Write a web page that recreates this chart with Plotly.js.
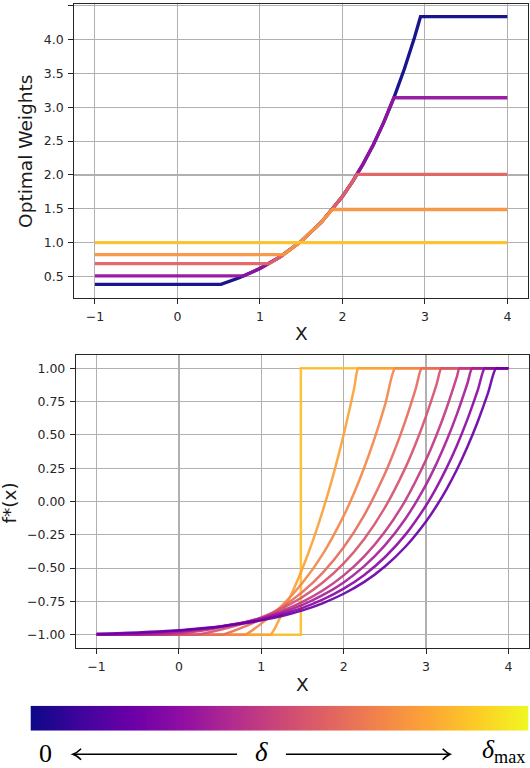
<!DOCTYPE html>
<html><head><meta charset="utf-8">
<script src="https://cdn.plot.ly/plotly-3.0.1.min.js"></script>
<style>html,body{margin:0;padding:0;background:#fff}#chart{width:530px;height:768px}</style>
</head><body><div id="chart"></div>
<script>
// ---------- Top panel: optimal weights vs X ----------
const wNavyX   = [-1, 0.528, 0.75, 1, 1.25, 1.5, 1.75, 2, 2.125, 2.25, 2.375, 2.5, 2.625, 2.75, 2.875, 2.947, 4];
const wNavyY   = [0.386, 0.386, 0.482, 0.619, 0.795, 1.020, 1.310, 1.682, 1.906, 2.160, 2.447, 2.773, 3.142, 3.561, 4.035, 4.337, 4.337];
const wPurpleX = [-1, 0.805, 1, 1.25, 1.5, 1.75, 2, 2.125, 2.25, 2.375, 2.5, 2.624, 4];
const wPurpleY = [0.509, 0.509, 0.619, 0.795, 1.020, 1.310, 1.682, 1.906, 2.160, 2.447, 2.773, 3.14, 3.14];
const wRedX    = [-1, 1.112, 1.25, 1.5, 1.75, 2, 2.125, 2.178, 4];
const wRedY    = [0.692, 0.692, 0.795, 1.020, 1.310, 1.682, 1.906, 2.01, 2.01];
const wOrangeX = [-1, 1.288, 1.5, 1.75, 1.879, 4];
const wOrangeY = [0.825, 0.825, 1.020, 1.310, 1.49, 1.49];
const wYellowX = [-1, 4];
const wYellowY = [1, 1];
const topColors = ['#0d0887', '#9613a1', '#e16462', '#f8953f', '#fdc12b'];

// ---------- Bottom panel: f*(x) vs X ----------
const f1X = [-1, 1.48, 1.48, 4];
const f1Y = [-1, -1, 1, 1];
const f2X = [-1, 1.08, 1.112, 1.25, 1.375, 1.5, 1.625, 1.75, 1.875, 2, 2.125, 2.178, 2.21, 4];
const f2Y = [-1, -1, -1, -0.844, -0.684, -0.502, -0.296, -0.062, 0.202, 0.502, 0.842, 1, 1, 1];
const f3X = [-1, 0.775, 0.805, 1, 1.25, 1.5, 1.75, 2, 2.125, 2.25, 2.375, 2.5, 2.624, 2.655, 4];
const f3Y = [-1, -1, -1, -0.917, -0.783, -0.611, -0.391, -0.108, 0.062, 0.255, 0.473, 0.721, 1, 1, 1];
const f4X = [-1, 0.498, 0.528, 0.75, 1, 1.25, 1.5, 1.75, 2, 2.25, 2.5, 2.625, 2.75, 2.875, 2.947, 2.977, 4];
const f4Y = [-1, -1, -1, -0.951, -0.882, -0.793, -0.679, -0.532, -0.344, -0.102, 0.208, 0.395, 0.607, 0.847, 1, 1, 1];
const f5X = [-1, 0.177, 0.207, 0.5, 0.75, 1, 1.25, 1.5, 1.75, 2, 2.25, 2.5, 2.75, 2.875, 3, 3.125, 3.187, 3.217, 4];
const f5Y = [-1, -1, -1, -0.964, -0.923, -0.870, -0.803, -0.717, -0.606, -0.464, -0.281, -0.047, 0.254, 0.435, 0.641, 0.873, 1, 1, 1];
const f6X = [-1, -0.159, -0.129, 0, 0.25, 0.5, 0.75, 1, 1.25, 1.5, 1.75, 2, 2.25, 2.5, 2.75, 3, 3.125, 3.25, 3.375, 3.406, 3.436, 4];
const f6Y = [-1, -1, -1, -0.992, -0.972, -0.947, -0.915, -0.874, -0.822, -0.754, -0.667, -0.555, -0.412, -0.228, 0.009, 0.313, 0.495, 0.702, 0.937, 1, 1, 1];
const f7X = [-1, -0.516, -0.486, -0.25, 0, 0.25, 0.5, 0.75, 1, 1.25, 1.5, 1.75, 2, 2.25, 2.5, 2.75, 3, 3.125, 3.25, 3.375, 3.5, 3.56, 3.59, 4];
const f7Y = [-1, -1, -1, -0.991, -0.978, -0.961, -0.940, -0.913, -0.878, -0.834, -0.776, -0.702, -0.608, -0.486, -0.330, -0.130, 0.127, 0.282, 0.457, 0.656, 0.882, 1, 1, 1];
const f8X = [-1, -0.958, -0.928, -0.75, -0.5, -0.25, 0, 0.25, 0.5, 0.75, 1, 1.25, 1.5, 1.75, 2, 2.25, 2.5, 2.75, 3, 3.125, 3.25, 3.375, 3.5, 3.625, 3.713, 3.743, 4];
const f8Y = [-1, -1, -1, -0.996, -0.990, -0.981, -0.970, -0.956, -0.938, -0.915, -0.886, -0.847, -0.799, -0.736, -0.655, -0.552, -0.419, -0.249, -0.030, 0.102, 0.252, 0.421, 0.613, 0.830, 1, 1, 1];
const f9X = [-1, -0.75, -0.5, -0.25, 0, 0.25, 0.5, 0.75, 1, 1.25, 1.5, 1.75, 2, 2.25, 2.5, 2.75, 3, 3.125, 3.25, 3.375, 3.5, 3.625, 3.75, 3.85, 3.88, 4];
const f9Y = [-0.994, -0.989, -0.983, -0.976, -0.967, -0.954, -0.939, -0.919, -0.893, -0.860, -0.818, -0.763, -0.693, -0.604, -0.488, -0.340, -0.150, -0.036, 0.093, 0.240, 0.407, 0.595, 0.809, 1, 1, 1];
const bottomColors = ['#fcbf2b', '#fba238', '#f4884a', '#e66c5c', '#d5546e', '#c03a83', '#a62098', '#8b0aa5', '#6a00a8'];

// ---------- Colour bar (delta from 0 to delta_max) ----------
const cbarX = [0, 1];
const cbarY = [0, 1];
const cbarZ = [[0, 1], [0, 1]];
const plasma = [[0, '#0d0887'], [0.1, '#41049d'], [0.2, '#6a00a8'], [0.3, '#8f0da4'], [0.4, '#b12a90'],
  [0.5, '#cc4778'], [0.6, '#e16462'], [0.7, '#f2844b'], [0.8, '#fca636'], [0.9, '#fcce25'], [1, '#f0f921']];

const topSeries = [[wNavyX, wNavyY], [wPurpleX, wPurpleY], [wRedX, wRedY], [wOrangeX, wOrangeY], [wYellowX, wYellowY]];
const botSeries = [[f1X, f1Y], [f2X, f2Y], [f3X, f3Y], [f4X, f4Y], [f5X, f5Y], [f6X, f6Y], [f7X, f7Y], [f8X, f8Y], [f9X, f9Y]];

const traces = [];
topSeries.forEach((s, i) => traces.push({
  x: s[0], y: s[1], type: 'scatter', mode: 'lines', xaxis: 'x', yaxis: 'y',
  line: {color: topColors[i], width: 3.3}, opacity: 0.95, hoverinfo: 'skip'
}));
botSeries.forEach((s, i) => traces.push({
  x: s[0], y: s[1], type: 'scatter', mode: 'lines', xaxis: 'x2', yaxis: 'y2',
  line: {color: bottomColors[i], width: 2.5, shape: i === 0 ? 'linear' : 'spline', smoothing: 1},
  opacity: 0.92, hoverinfo: 'skip'
}));
traces.push({
  type: 'heatmap', x: cbarX, y: cbarY, z: cbarZ, zmin: 0, zmax: 1, zsmooth: 'best',
  colorscale: plasma, showscale: false, xaxis: 'x3', yaxis: 'y3', hoverinfo: 'skip'
});

const tickFont = {family: 'DejaVu Sans', size: 12.5, color: '#262626'};
const axBase = {
  showgrid: true, gridcolor: '#b0b0b0', gridwidth: 1.1, zeroline: false,
  showline: true, linecolor: '#262626', linewidth: 1.2, mirror: true,
  ticks: 'outside', ticklen: 5, tickwidth: 1, tickcolor: '#262626',
  tickfont: tickFont, ticklabelstandoff: 2, fixedrange: true
};
const titleFont = {family: 'DejaVu Sans', size: 18.5, color: '#1a1a1a'};
const arrowLine = {color: '#000', width: 1.6};

const layout = {
  width: 530, height: 768, margin: {l: 0, r: 0, t: 0, b: 0},
  paper_bgcolor: '#ffffff', plot_bgcolor: '#ffffff', showlegend: false,
  xaxis: Object.assign({}, axBase, {domain: [0.1402, 0.9962], range: [-1.25, 4.25], anchor: 'y',
    tickvals: [-1, 0, 1, 2, 3, 4]}),
  yaxis: Object.assign({}, axBase, {domain: [0.6122, 0.995], range: [0.186, 4.527], anchor: 'x',
    tickvals: [0.5, 1, 1.5, 2, 2.5, 3, 3.5, 4, 4.5], tickformat: '.1f'}),
  xaxis2: Object.assign({}, axBase, {domain: [0.1434, 0.9981], range: [-1.25, 4.25], anchor: 'y2',
    tickvals: [-1, 0, 1, 2, 3, 4]}),
  yaxis2: Object.assign({}, axBase, {domain: [0.1563, 0.5378], range: [-1.1, 1.1], anchor: 'x2',
    tickvals: [-1, -0.75, -0.5, -0.25, 0, 0.25, 0.5, 0.75, 1], tickformat: '.2f'}),
  xaxis3: {domain: [0.0575, 0.997], range: [0, 1], anchor: 'y3', visible: false, fixedrange: true},
  yaxis3: {domain: [0.0486, 0.0811], range: [0, 1], anchor: 'x3', visible: false, fixedrange: true},
  shapes: [
    {type: 'line', xref: 'paper', yref: 'paper', x0: 0.1390, x1: 0.4472, y0: 0.01784, y1: 0.01784, line: arrowLine},
    {type: 'path', xref: 'paper', yref: 'paper', line: arrowLine,
     path: 'M0.1530,0.0250 Q0.1450,0.0195 0.1377,0.01784 Q0.1450,0.0162 0.1530,0.0107'},
    {type: 'line', xref: 'paper', yref: 'paper', x0: 0.5396, x1: 0.8478, y0: 0.01784, y1: 0.01784, line: arrowLine},
    {type: 'path', xref: 'paper', yref: 'paper', line: arrowLine,
     path: 'M0.8352,0.0250 Q0.8432,0.0195 0.8491,0.01784 Q0.8432,0.0162 0.8352,0.0107'}
  ],
  annotations: [
    {text: 'Optimal Weights', xref: 'paper', yref: 'paper', x: 0.049, y: 0.8035, textangle: -90,
     showarrow: false, xanchor: 'center', yanchor: 'middle', font: titleFont},
    {text: 'X', xref: 'paper', yref: 'paper', x: 0.568, y: 0.5664,
     showarrow: false, xanchor: 'center', yanchor: 'middle', font: titleFont},
    {text: 'f*(x)', xref: 'paper', yref: 'paper', x: 0.0179, y: 0.345, textangle: -90,
     showarrow: false, xanchor: 'center', yanchor: 'middle', font: titleFont},
    {text: 'X', xref: 'paper', yref: 'paper', x: 0.5708, y: 0.1081,
     showarrow: false, xanchor: 'center', yanchor: 'middle', font: titleFont},
    {text: '0', xref: 'paper', yref: 'paper', x: 0.0862, y: 0.0190,
     showarrow: false, xanchor: 'center', yanchor: 'middle',
     font: {family: 'Liberation Serif', size: 26, color: '#000'}},
    {text: '<i>δ</i>', xref: 'paper', yref: 'paper', x: 0.4943, y: 0.0205,
     showarrow: false, xanchor: 'center', yanchor: 'middle',
     font: {family: 'Liberation Serif', size: 27, color: '#000'}},
    {text: '<i>δ</i><sub>max</sub>', xref: 'paper', yref: 'paper', x: 0.994, y: 0.0215,
     showarrow: false, xanchor: 'right', yanchor: 'middle',
     font: {family: 'Liberation Serif', size: 26, color: '#000'}}
  ]
};

Plotly.newPlot('chart', traces, layout, {displayModeBar: false, staticPlot: true});
</script>
</body></html>
